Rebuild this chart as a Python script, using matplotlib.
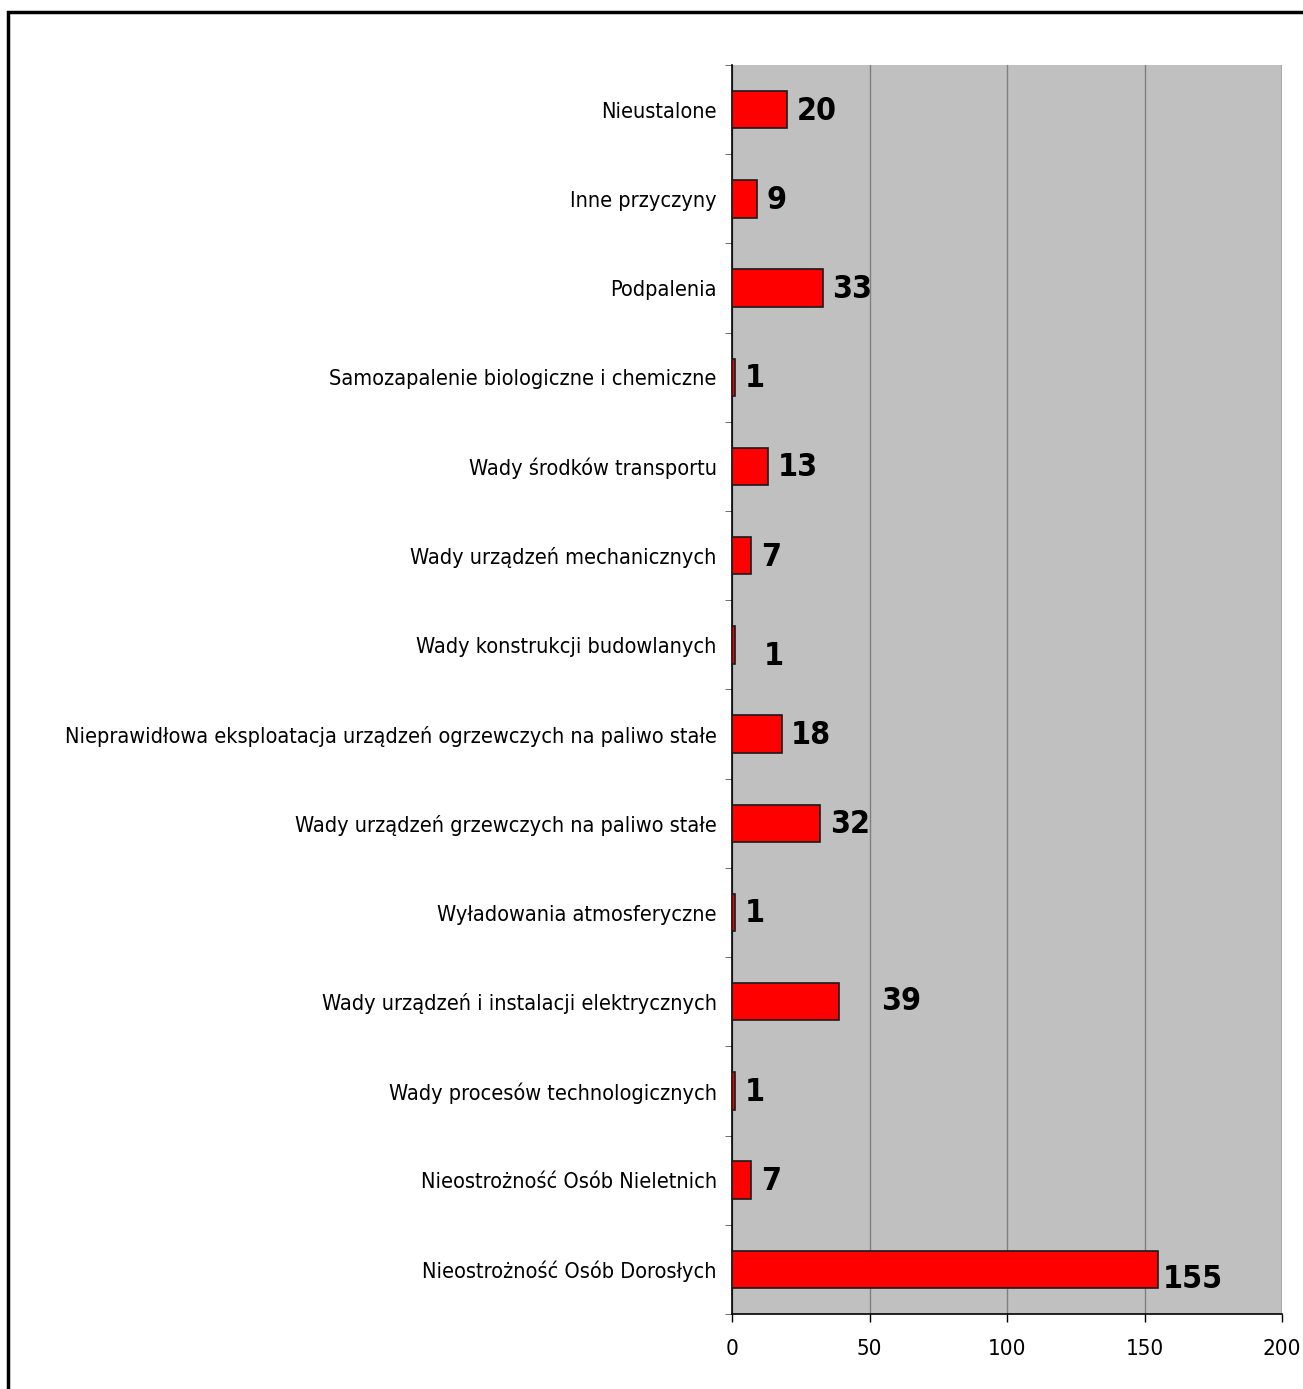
import matplotlib
matplotlib.use('Agg')
import matplotlib.pyplot as plt
from matplotlib.patches import Rectangle
from matplotlib import font_manager

# Fire causes, bottom to top as drawn
CAUSES = [
    "Nieostrożność Osób Dorosłych",
    "Nieostrożność Osób Nieletnich",
    "Wady procesów technologicznych",
    "Wady urządzeń i instalacji elektrycznych",
    "Wyładowania atmosferyczne",
    "Wady urządzeń grzewczych na paliwo stałe",
    "Nieprawidłowa eksploatacja urządzeń ogrzewczych na paliwo stałe",
    "Wady konstrukcji budowlanych",
    "Wady urządzeń mechanicznych",
    "Wady środków transportu",
    "Samozapalenie biologiczne i chemiczne",
    "Podpalenia",
    "Inne przyczyny",
    "Nieustalone",
]
COUNTS = [155, 7, 1, 39, 1, 32, 18, 1, 7, 13, 1, 33, 9, 20]
X_TICKS = [0, 50, 100, 150, 200]

names = {f.name for f in font_manager.fontManager.ttflist}
FAMILY = [f for f in ["Liberation Sans Narrow", "DejaVu Sans"] if f in names]
plt.rcParams['font.family'] = FAMILY
plt.rcParams['font.stretch'] = 'condensed'

# label offsets (points) for a few bars that sit off the default spot
LABEL_SHIFT = {0: (3, -7), 3: (30, 0), 7: (21, -8)}

fig = plt.figure(figsize=(13.03, 13.89), dpi=100)
ax = fig.add_axes([0.5618, 0.054, 0.4221, 0.8992])
ax.set_facecolor('#c0c0c0')

y = list(range(len(CAUSES)))
ax.barh(y, COUNTS, height=0.42, color='#ff0000', edgecolor='#1a1a1a',
        linewidth=1.2, zorder=3)

for i, v in enumerate(COUNTS):
    dx, dy = LABEL_SHIFT.get(i, (7, -1))
    ax.annotate(str(v), (v, i), xytext=(dx, dy), textcoords='offset points',
                ha='left', va='center', fontsize=23, fontweight='bold',
                fontstretch='condensed', color='black', zorder=4)

ax.set_xlim(0, 200)
ax.set_ylim(-0.5, len(CAUSES) - 0.5)
ax.set_xticks(X_TICKS)
ax.set_xticklabels([str(t) for t in X_TICKS], fontsize=16)
ax.set_yticks(y)
ax.set_yticklabels(CAUSES, fontsize=15.6)
ax.tick_params(axis='y', length=0, pad=11)
ax.set_yticks([i - 0.5 for i in range(len(CAUSES) + 1)], minor=True)
ax.tick_params(axis='y', which='minor', length=5, color='#555555', direction='out')
ax.tick_params(axis='x', length=6, width=1, direction='out', pad=12)

ax.grid(axis='x', color='#808080', linewidth=1, zorder=1)
for s in ['top', 'right']:
    ax.spines[s].set_visible(False)
ax.spines['left'].set_linewidth(1.2)
ax.spines['bottom'].set_linewidth(1.2)
ax.axvline(200, color='#808080', linewidth=1, zorder=1)

# outer chart frame (cut off at right and bottom)
fig.patches.append(Rectangle((8 / 1303, -0.05), 1.1, 1 - 12 / 1389 + 0.05,
                             transform=fig.transFigure, fill=False,
                             edgecolor='black', linewidth=2.5))

fig.savefig('out.png', dpi=100)
